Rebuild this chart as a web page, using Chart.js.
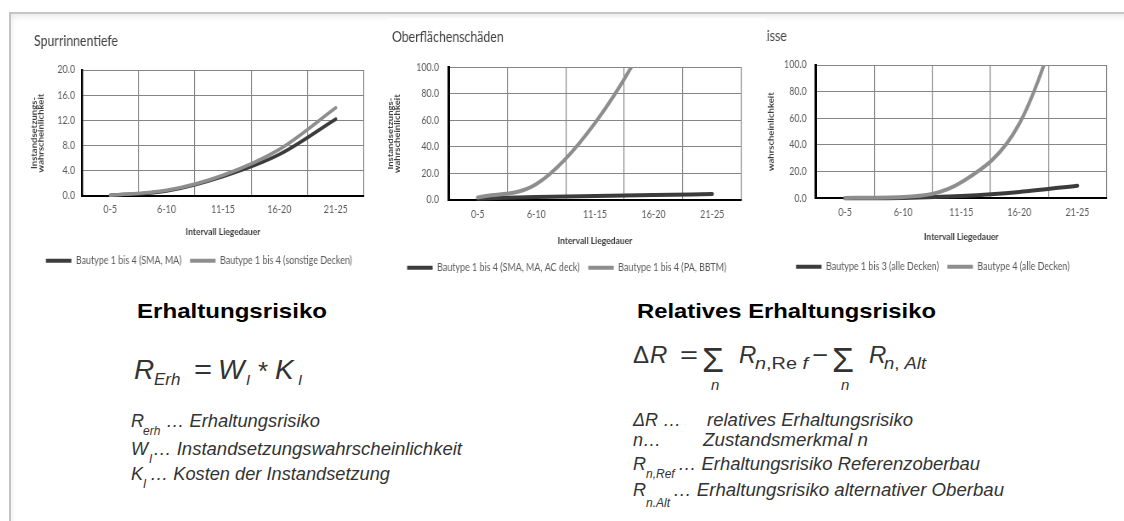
<!DOCTYPE html>
<html>
<head>
<meta charset="utf-8">
<script src="https://cdn.jsdelivr.net/npm/chart.js@4.4.1/dist/chart.umd.min.js"></script>
<style>
  html, body { margin:0; padding:0; background:#fff; width:1124px; height:521px; overflow:hidden; position:relative; }
  .frame { position:absolute; left:9px; top:12px; width:1130px; height:520px; border-left:2px solid #c4c4c4; border-top:2px solid #c4c4c4; box-shadow: inset 3px 5px 7px -3px rgba(0,0,0,0.10); }
  canvas { position:absolute; transform-origin:0 0; transform:scaleX(0.85); }
  #c3 { z-index:1; }
  #c2 { z-index:2; background:#fff; }
  #c1 { z-index:2; }
  .tx { position:absolute; white-space:nowrap; line-height:1; font-family:'Liberation Sans', Arial, sans-serif; transform-origin:0 0; color:#333; z-index:3; }
</style>
</head>
<body>
<div class="frame"></div>
<canvas id="c1" width="402" height="256" style="left:30px;top:20px;width:402px;height:256px"></canvas>
<canvas id="c3" width="434" height="266" style="left:755px;top:16px;width:434px;height:266px"></canvas>
<canvas id="c2" width="445" height="265" style="left:388px;top:18px;width:445px;height:265px"></canvas>
<script>
// ---- data ----
const categories = ['0-5', '6-10', '11-15', '16-20', '21-25'];

const spurLabels = ['Bautype 1 bis 4 (SMA, MA)', 'Bautype 1 bis 4 (sonstige Decken)'];
const spurDark  = [0.1, 0.8, 3.1, 6.6, 12.2];
const spurLight = [0.1, 0.9, 3.3, 7.4, 14.0];
const spurTicks = [0, 4, 8, 12, 16, 20];

const oberLabels = ['Bautype 1 bis 4 (SMA, MA, AC deck)', 'Bautype 1 bis 4 (PA, BBTM)'];
const oberDark  = [1.0, 2.2, 3.0, 3.7, 4.5];
const oberLight = [2.0, 12.0, 58.0, 132.0, 240.0];
const oberTicks = [0, 20, 40, 60, 80, 100];

const risseLabels = ['Bautype 1 bis 3 (alle Decken)', 'Bautype 4 (alle Decken)'];
const risseDark  = [0.0, 0.3, 1.7, 4.7, 9.5];
const risseLight = [0.3, 1.0, 12.0, 56.0, 172.0];
const risseTicks = [0, 20, 40, 60, 80, 100];

const chartTitles = ['Spurrinnentiefe', 'Oberflächenschäden', 'Risse'];
const xTitle = 'Intervall Liegedauer';
const yTitleFull = ['Instandsetzungs-', 'wahrscheinlichkeit'];
const yTitleShort = 'wahrscheinlichkeit';

// ---- style ----
const FONT = 'Lato, "Open Sans", sans-serif';
const DARK = '#3c3c3c';
const LIGHT = '#8e8e8e';
const GRID = '#858585';

function makeChart(id, names, dark, light, yTicks, g) {
  return new Chart(document.getElementById(id), {
    type: 'line',
    data: {
      labels: categories,
      datasets: [
        { label: names[0], data: dark, borderColor: DARK, backgroundColor: DARK, borderWidth: g.lw, order: 1 },
        { label: names[1], data: light, borderColor: LIGHT, backgroundColor: LIGHT, borderWidth: g.lw, order: 0 }
      ]
    },
    options: {
      responsive: false, animation: false, devicePixelRatio: 1,
      layout: { padding: { left: g.padL, right: g.padR, top: 0, bottom: 0 } },
      elements: {
        point: { radius: 0, hoverRadius: 0 },
        line: { cubicInterpolationMode: 'monotone', borderCapStyle: 'round', borderJoinStyle: 'round' }
      },
      datasets: { line: { clip: { left: 12, right: 12, top: 0, bottom: 12 } } },
      plugins: {
        title: { display: true, text: g.title, align: 'start', color: '#404040',
                 font: { family: FONT, size: 14.5, weight: 'normal' }, padding: { top: g.tPadT, bottom: g.tPadB } },
        legend: { position: 'bottom',
          labels: { boxWidth: 30, boxHeight: 4, padding: 10, color: '#595959', font: { family: FONT, size: 10.5 },
            sort: (a, b) => a.datasetIndex - b.datasetIndex,
            generateLabels: (chart) => Chart.defaults.plugins.legend.labels.generateLabels(chart).map(it => Object.assign(it, { lineWidth: 0 })) } },
        tooltip: { enabled: false }
      },
      scales: {
        x: {
          offset: true,
          grid: { offset: true, color: GRID, drawTicks: false, lineWidth: 1.15 },
          border: { color: '#000', width: 2 },
          ticks: { padding: g.xTickPad, color: '#595959', font: { family: FONT, size: 10.5 }, maxRotation: 0, autoSkip: false },
          title: { display: true, text: xTitle, color: '#404040', font: { family: FONT, size: 10, weight: 'bold' },
                   padding: { top: g.xtPadT, bottom: g.xtPadB } }
        },
        y: {
          min: yTicks[0], max: yTicks[yTicks.length - 1],
          afterBuildTicks: s => { s.ticks = yTicks.map(v => ({ value: v })); },
          afterFit: s => { s.width = g.yW; },
          grid: { color: GRID, drawTicks: false },
          border: { color: '#000', width: g.bw },
          ticks: { padding: g.yTickPad, color: '#595959', font: { family: FONT, size: 10.5 }, callback: v => Number(v).toFixed(1) },
          title: { display: true, text: g.yTitle, color: '#404040',
                   font: { family: FONT, size: 9.5, weight: 'bold', lineHeight: 0.8 }, padding: { top: g.ytPadT, bottom: 0 } }
        }
      }
    }
  });
}

// legend item height is 10.5 now -> shift x-title bottom padding by -0.25
makeChart('c1', spurLabels, spurDark, spurLight, spurTicks, {
  title: chartTitles[0], yTitle: yTitleFull, lw: 3.5, bw: 2.4,
  padL: 4.7, padR: 9.1, yW: 56.5, ytPadT: -3.2, yTickPad: 8.2,
  tPadT: 12.3, tPadB: 20.3, xTickPad: 7.7, xtPadT: 2.2, xtPadB: 7.3
});
makeChart('c2', oberLabels, oberDark, oberLight, oberTicks, {
  title: chartTitles[1], yTitle: yTitleFull, lw: 4, bw: 3,
  padL: 4.7, padR: 29.1, yW: 66.5, ytPadT: -5.6, yTickPad: 11.2,
  tPadT: 10.8, tPadB: 21.1, xTickPad: 8.7, xtPadT: 4.4, xtPadB: 6.1
});
makeChart('c3', risseLabels, risseDark, risseLight, risseTicks, {
  title: chartTitles[2], yTitle: yTitleShort, lw: 4, bw: 3,
  padL: 4.7, padR: 20.5, yW: 67.1, ytPadT: 10.9, yTickPad: 10.9,
  tPadT: 11.3, tPadB: 20.3, xTickPad: 7.7, xtPadT: 4.7, xtPadB: 8.5
});

// ---- formula text ----
function place(html, x, base, size, o) {
  o = o || {};
  const d = document.createElement('div');
  d.className = 'tx';
  d.innerHTML = html;
  d.style.left = x + 'px';
  d.style.fontSize = size + 'px';
  d.style.top = (base - 0.8465 * size) + 'px';
  if (o.b) d.style.fontWeight = 'bold';
  if (o.i) d.style.fontStyle = 'italic';
  if (o.c) d.style.color = o.c;
  document.body.appendChild(d);
  if (o.w) {
    const w = d.getBoundingClientRect().width;
    d.style.transform = 'scaleX(' + (o.w / w) + ')';
  }
}

// left block
place('Erhaltungsrisiko', 137, 318, 21, { b: true, c: '#000', w: 190 });
place('R', 134, 380, 28, { i: true });
place('Erh', 154, 385, 17, { i: true });
place('=', 194, 380, 28, { w: 18 });
place('W', 218, 380, 28, { i: true });
place('I', 246, 385, 15, { i: true });
place('*', 258, 380, 26);
place('K', 275, 380, 28, { i: true });
place('I', 298, 385, 15, { i: true });

place('R', 131, 427, 18, { i: true });
place('erh', 143, 435, 12, { i: true });
place('… Erhaltungsrisiko', 166, 427, 18, { i: true, w: 154 });
place('W', 131, 455, 18, { i: true });
place('I', 149, 463, 12, { i: true });
place('… Instandsetzungswahrscheinlichkeit', 153, 455, 18, { i: true, w: 309 });
place('K', 131, 480, 18, { i: true });
place('I', 143, 488, 12, { i: true });
place('… Kosten der Instandsetzung', 150, 480, 18, { i: true, w: 240 });

// right block
place('Relatives Erhaltungsrisiko', 637, 318, 21, { b: true, c: '#000', w: 299 });
place('Δ', 633, 363, 24);
place('R', 650, 363, 24, { i: true });
place('=', 680, 363, 24, { w: 18 });
place('Σ', 702, 372, 35, { w: 22 });
place('n', 711, 390, 15, { i: true });
place('R', 739, 363, 24, { i: true });
place('<i>n</i>,Re<i> f</i>', 755, 370, 16, { w: 53 });
place('−', 812, 363, 24, { w: 16 });
place('Σ', 832, 372, 35, { w: 22 });
place('n', 841, 390, 15, { i: true });
place('R', 869, 363, 24, { i: true });
place('<i>n</i>, <i>Alt</i>', 884, 370, 16, { w: 42 });

place('ΔR …', 633, 426, 18, { i: true });
place('relatives Erhaltungsrisiko', 707, 426, 18, { i: true, w: 206 });
place('n…', 633, 446, 18, { i: true });
place('Zustandsmerkmal n', 703, 446, 18, { i: true, w: 165 });
place('R', 633, 470, 18, { i: true });
place('n,Ref', 646, 478, 12, { i: true });
place('… Erhaltungsrisiko Referenzoberbau', 678, 470, 18, { i: true, w: 302 });
place('R', 633, 496, 18, { i: true });
place('n.Alt', 646, 507, 12, { i: true });
place('… Erhaltungsrisiko alternativer Oberbau', 673, 496, 18, { i: true, w: 331 });
</script>
</body>
</html>
